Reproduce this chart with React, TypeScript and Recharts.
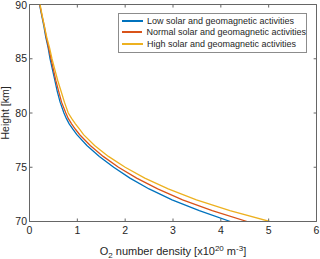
import { LineChart, Line, XAxis, YAxis, Legend, ReferenceLine } from "recharts";

// heights in km, densities in 1e20 m^-3
const heights = [70, 71, 72, 73, 74, 75, 76, 77, 78, 78.5, 79, 79.5, 80, 81, 82, 83, 84, 85, 86, 87, 88, 89, 90];
const lowDensity = [4.2, 3.55, 2.98, 2.5, 2.1, 1.76, 1.46, 1.2, 0.99, 0.91, 0.83, 0.77, 0.72, 0.64, 0.58, 0.53, 0.48, 0.43, 0.39, 0.34, 0.3, 0.255, 0.21];
const normalDensity = [4.55, 3.82, 3.2, 2.68, 2.24, 1.86, 1.54, 1.27, 1.05, 0.96, 0.88, 0.81, 0.76, 0.67, 0.61, 0.55, 0.5, 0.45, 0.4, 0.35, 0.31, 0.26, 0.215];
const highDensity = [5.02, 4.19, 3.49, 2.9, 2.41, 2.0, 1.65, 1.36, 1.13, 1.05, 0.96, 0.88, 0.81, 0.73, 0.66, 0.59, 0.53, 0.47, 0.42, 0.36, 0.31, 0.265, 0.22];

const xTicks = [0, 1, 2, 3, 4, 5, 6];
const yTicks = [70, 75, 80, 85, 90];

const seriesNames = [
  "Low solar and geomagnetic activities",
  "Normal solar and geomagnetic activities",
  "High solar and geomagnetic activities",
];
const colors = ["#0072BD", "#D95319", "#EDB120"];

const toRows = (vals: number[]) => vals.map((d, i) => ({ d, h: heights[i] }));
const series = [toRows(lowDensity), toRows(normalDensity), toRows(highDensity)];

const X_MIN = 0, X_MAX = 6, Y_MIN = 70, Y_MAX = 90;
// inward tick length for the top/right box ticks, in data units (~3px)
const TICK_DX = 0.06;
const TICK_DY = 0.28;

const FONT = "'Liberation Sans', Arial, sans-serif";
const AXIS = "#666666";
const TEXT = "#262626";

const tickStyle = { fontSize: 10.5, fill: TEXT, fontFamily: FONT };

const XLabel = (props: any) => {
  const { viewBox } = props;
  const cx = viewBox.x + viewBox.width / 2;
  const y = viewBox.y + 33;
  return (
    <text x={cx} y={y} textAnchor="middle" fontSize={11} fill={TEXT} fontFamily={FONT}>
      <tspan>O</tspan>
      <tspan fontSize={8} dy={3}>2</tspan>
      <tspan dy={-3}> number density [x10</tspan>
      <tspan fontSize={8} dy={-4}>20</tspan>
      <tspan dy={4}> m</tspan>
      <tspan fontSize={8} dy={-4}>-3</tspan>
      <tspan dy={4}>]</tspan>
    </text>
  );
};

const YLabel = (props: any) => {
  const { viewBox } = props;
  const cy = viewBox.y + viewBox.height / 2;
  const x = 9;
  return (
    <text
      x={x}
      y={cy}
      textAnchor="middle"
      fontSize={10.5}
      fill={TEXT}
      fontFamily={FONT}
      transform={`rotate(-90 ${x} ${cy})`}
    >
      Height [km]
    </text>
  );
};

const LegendBox = (props: any) => {
  const items = [...(props.payload || [])]
    .filter((a: any) => seriesNames.includes(a.value))
    .sort((a: any, b: any) => seriesNames.indexOf(a.value) - seriesNames.indexOf(b.value));
  return (
    <div
      style={{
        border: `1px solid #8c8c8c`,
        background: "#fff",
        width: 187,
        height: 37,
        paddingTop: 1,
        boxSizing: "content-box",
        fontFamily: FONT,
        fontSize: 9,
        color: TEXT,
      }}
    >
      {items.map((p: any) => (
        <div key={p.value} style={{ display: "flex", alignItems: "center", height: 11.5 }}>
          <span style={{ width: 21, height: 2, background: p.color, marginLeft: 3, marginRight: 4 }} />
          <span style={{ whiteSpace: "nowrap" }}>{p.value}</span>
        </div>
      ))}
    </div>
  );
};

export default function App() {
  return (
    <div style={{ position: "absolute", left: 0, top: 0 }}>
      <LineChart width={320} height={259} margin={{ top: 4.5, right: 3.5, bottom: 0, left: 4.5 }}>
        <XAxis
          type="number"
          dataKey="d"
          domain={[X_MIN, X_MAX]}
          ticks={xTicks}
          allowDataOverflow
          height={37.5}
          stroke={AXIS}
          tickSize={-3}
          tickMargin={8}
          tick={tickStyle}
          label={<XLabel />}
        />
        <YAxis
          type="number"
          dataKey="h"
          domain={[Y_MIN, Y_MAX]}
          ticks={yTicks}
          allowDataOverflow
          width={25}
          stroke={AXIS}
          tickSize={-3}
          tickMargin={5.5}
          tick={tickStyle}
          label={<YLabel />}
        />
        {/* box: top and right edges with inward ticks */}
        <ReferenceLine y={Y_MAX} stroke={AXIS} strokeWidth={1} ifOverflow="visible" />
        <ReferenceLine x={X_MAX} stroke={AXIS} strokeWidth={1} ifOverflow="visible" />
        {xTicks.map((t) => (
          <ReferenceLine
            key={`tx${t}`}
            segment={[{ x: t, y: Y_MAX }, { x: t, y: Y_MAX - TICK_DY }]}
            stroke={AXIS}
            ifOverflow="visible"
          />
        ))}
        {yTicks.map((t) => (
          <ReferenceLine
            key={`ty${t}`}
            segment={[{ x: X_MAX, y: t }, { x: X_MAX - TICK_DX, y: t }]}
            stroke={AXIS}
            ifOverflow="visible"
          />
        ))}
        {series.map((rows, i) => (
          <Line
            key={seriesNames[i]}
            data={rows}
            dataKey="h"
            name={seriesNames[i]}
            stroke={colors[i]}
            strokeWidth={1.3}
            dot={false}
            activeDot={false}
            type="linear"
            isAnimationActive={false}
          />
        ))}
        <Legend
          layout="horizontal"
          verticalAlign="middle"
          align="center"
          content={<LegendBox />}
          wrapperStyle={{ position: "absolute", left: 118, top: 13, width: 189, height: 39 }}
        />
      </LineChart>
    </div>
  );
}
